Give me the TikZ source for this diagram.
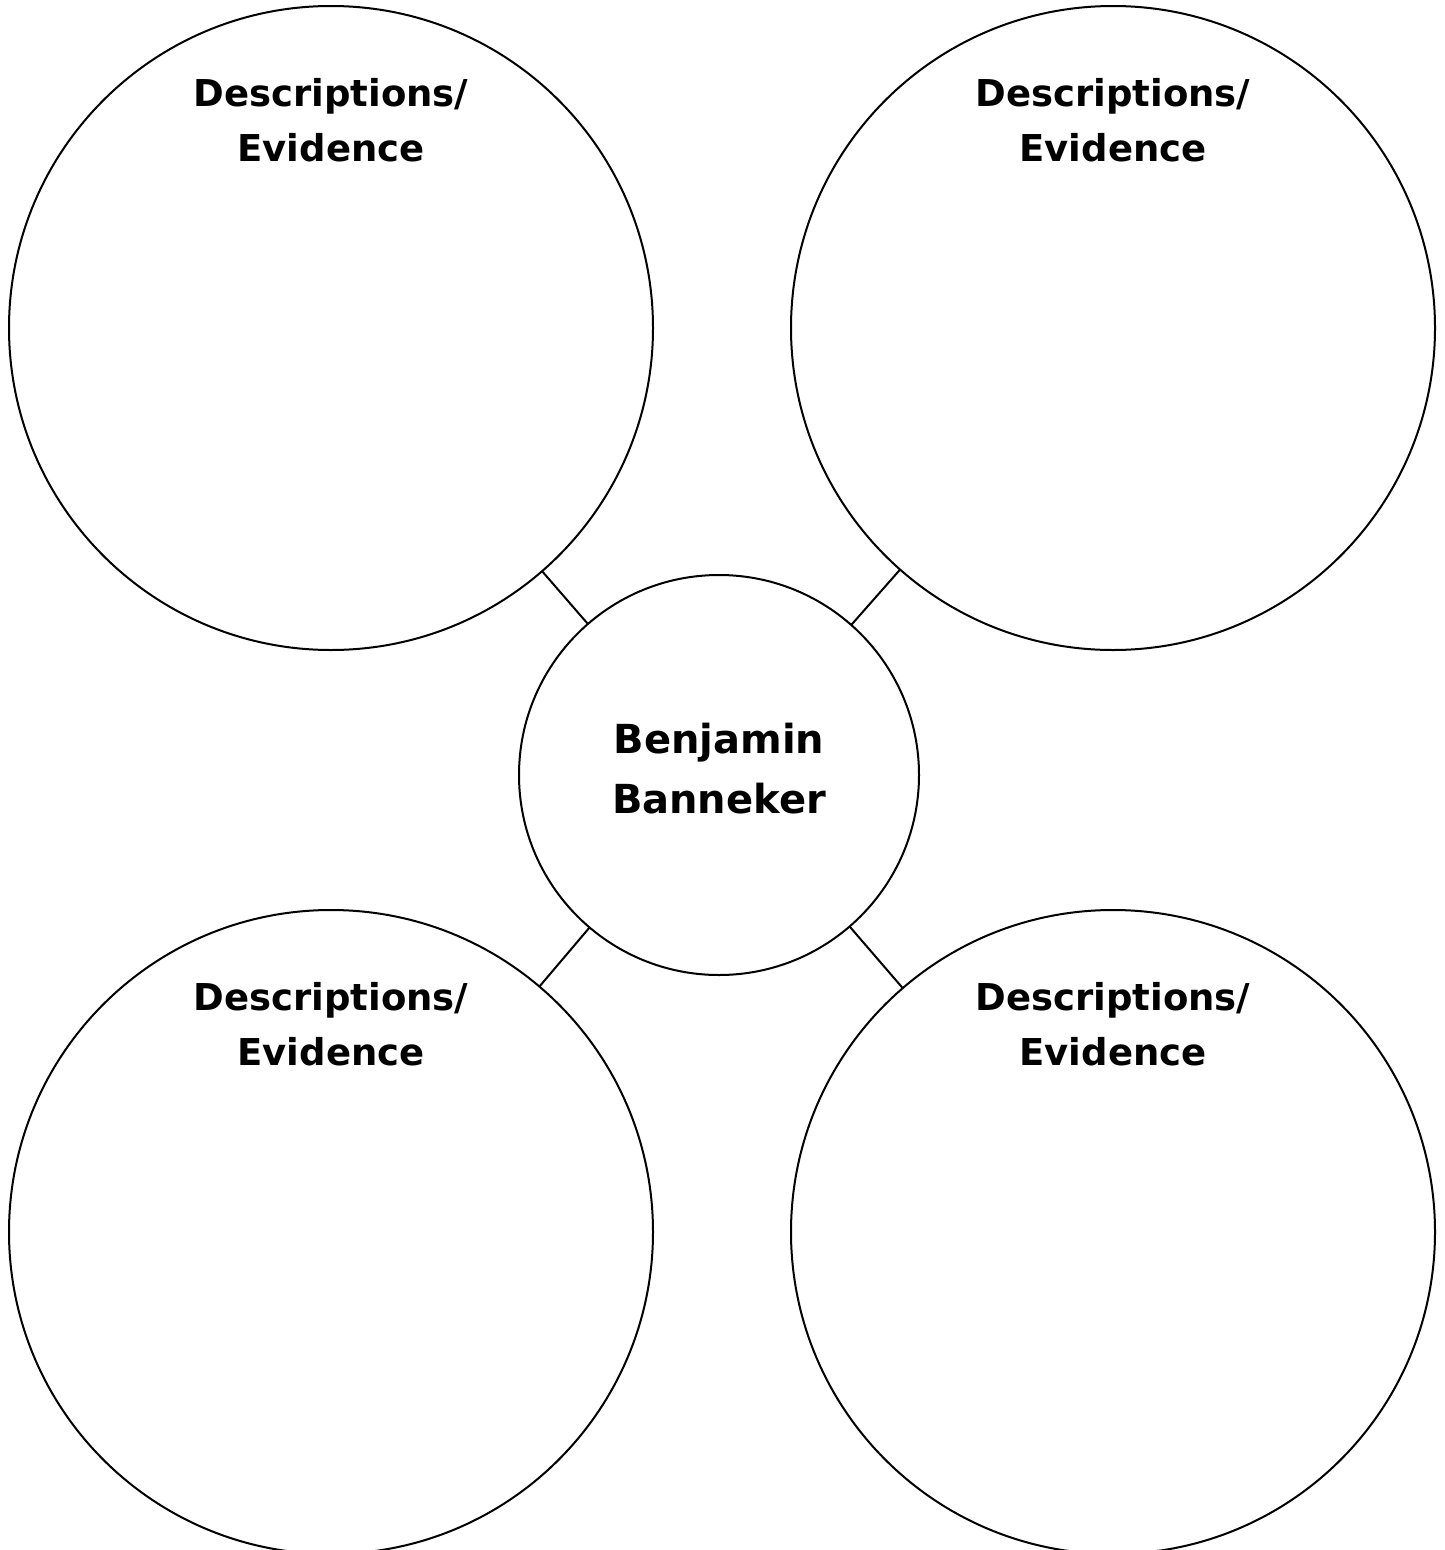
\documentclass[tikz,border=0pt]{standalone}
\usepackage{fontspec}
\setmainfont{DejaVu Sans}
\begin{document}
\begin{tikzpicture}[x=1pt,y=-1pt,
  bigc/.style={circle,draw,line width=2pt,minimum size=644pt,inner sep=0pt,outer sep=0pt},
  midc/.style={circle,draw,line width=2pt,minimum size=400pt,inner sep=0pt,outer sep=0pt},
  lab/.style={align=center,inner sep=0pt,font=\bfseries\fontsize{37}{55}\selectfont},
  clab/.style={align=center,inner sep=0pt,font=\bfseries\fontsize{40}{60}\selectfont},
  link/.style={line width=2pt}]
\useasboundingbox (0,0) rectangle (1445,1550);
\node[bigc] (tl) at (331,328) {};
\node[bigc] (tr) at (1113,328) {};
\node[bigc] (bl) at (331,1232) {};
\node[bigc] (br) at (1113,1232) {};
\node[midc] (c) at (719,775) {};
\node[lab] (tlt) at (331,120) {Descriptions/\\Evidence};
\node[lab] (trt) at (1113,120) {Descriptions/\\Evidence};
\node[lab] (blt) at (331,1024) {Descriptions/\\Evidence};
\node[lab] (brt) at (1113,1024) {Descriptions/\\Evidence};
\node[clab] (ct) at (719,769) {Benjamin\\Banneker};
\draw[link] (c) -- (tl);
\draw[link] (c) -- (tr);
\draw[link] (c) -- (bl);
\draw[link] (c) -- (br);
\end{tikzpicture}
\end{document}
